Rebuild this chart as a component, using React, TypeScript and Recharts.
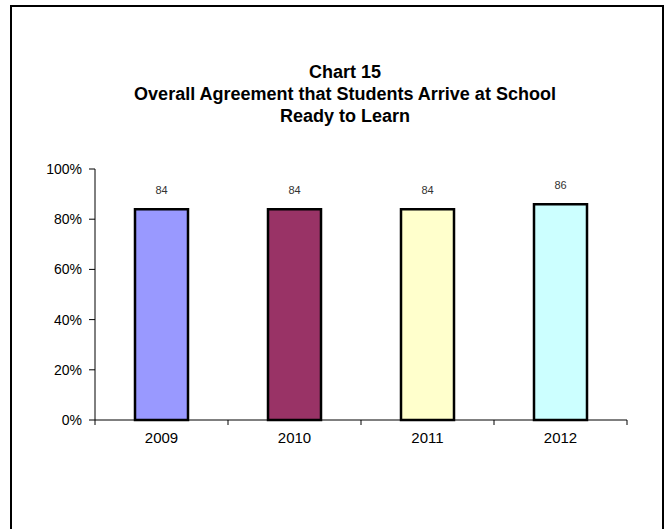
import { Bar, BarChart, Cell, LabelList, XAxis, YAxis } from "recharts";

// chart values
const years = ["2009", "2010", "2011", "2012"];
const agreement = [84, 84, 84, 86];
const barColors = ["#9999FF", "#993366", "#FFFFCC", "#CCFFFF"];
const yTicks = [0, 20, 40, 60, 80, 100];
const titleLines = [
  "Chart 15",
  "Overall Agreement that Students Arrive at School",
  "Ready to Learn",
];

const data = years.map((year, i) => ({ year, value: agreement[i] }));

const FONT = "'Liberation Sans', Arial, sans-serif";
const BAND = 133;

// x tick: label at the category centre, tick marks on the band edges
const XTick = ({ x, y, payload, index }: any) => (
  <g>
    <line x1={x - BAND / 2} y1={y - 8} x2={x - BAND / 2} y2={y - 3} stroke="#000" />
    {index === years.length - 1 && (
      <line x1={x + BAND / 2} y1={y - 8} x2={x + BAND / 2} y2={y - 3} stroke="#000" />
    )}
    <text x={x} y={y + 15} textAnchor="middle" fontSize={15} fontFamily={FONT} fill="#000">
      {payload.value}
    </text>
  </g>
);

export default function App() {
  return (
    <div style={{ position: "absolute", left: 0, top: 0, width: 668, height: 529, overflow: "hidden", background: "#fff" }}>
      <div
        style={{
          position: "absolute",
          left: 10,
          top: 5,
          width: 650,
          height: 560,
          border: "2.5px solid #000",
        }}
      />
      <div
        style={{
          position: "absolute",
          left: 45,
          width: 600,
          top: 61,
          textAlign: "center",
          fontFamily: FONT,
          fontWeight: "bold",
          fontSize: 18,
          lineHeight: "22px",
          color: "#000",
        }}
      >
        {titleLines.map((t) => (
          <div key={t}>{t}</div>
        ))}
      </div>
      <BarChart
        width={668}
        height={529}
        data={data}
        margin={{ top: 169, right: 41, bottom: 79, left: 35 }}
        barCategoryGap={0}
      >
        <XAxis
          dataKey="year"
          height={30}
          axisLine={{ stroke: "#000" }}
          tickLine={false}
          tick={<XTick />}
          interval={0}
        />
        <YAxis
          width={60}
          domain={[0, 100]}
          ticks={yTicks}
          tickFormatter={(v) => `${v}%`}
          axisLine={{ stroke: "#000" }}
          tickLine={{ stroke: "#000" }}
          tickSize={6}
          tickMargin={7}
          tick={{ fontSize: 14, fontFamily: FONT, fill: "#000" }}
        />
        <Bar dataKey="value" barSize={53} stroke="#000" strokeWidth={2.5} isAnimationActive={false}>
          {data.map((d, i) => (
            <Cell key={d.year} fill={barColors[i]} />
          ))}
          <LabelList dataKey="value" position="top" offset={15} fontSize={11} fontFamily={FONT} fill="#333" />
        </Bar>
      </BarChart>
    </div>
  );
}
